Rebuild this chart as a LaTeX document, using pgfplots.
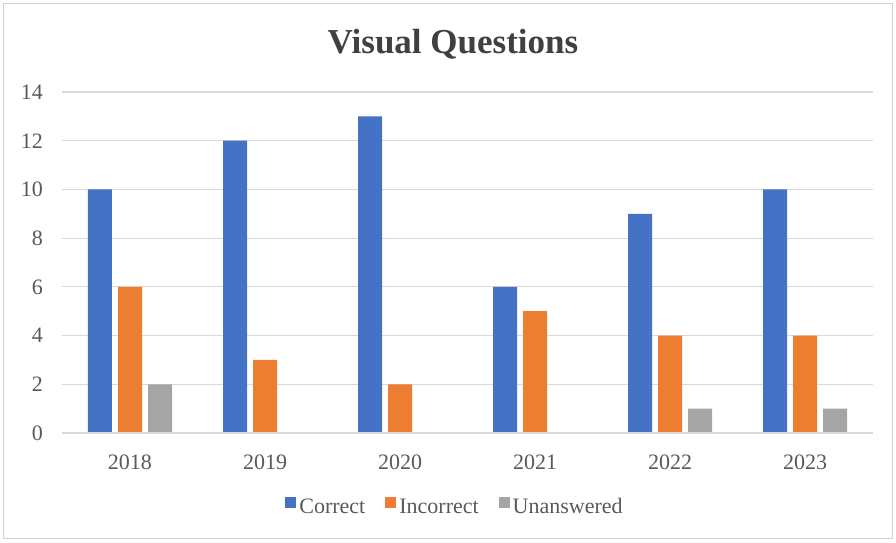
\documentclass[border=0pt]{standalone}
\usepackage{pgfplots}
\pgfplotsset{compat=1.18}
\usepackage{fontspec}
\setmainfont{Liberation Serif}
\definecolor{cblue}{HTML}{4472C4}
\definecolor{corange}{HTML}{ED7D31}
\definecolor{cgray}{HTML}{A5A5A5}
\definecolor{txt}{HTML}{595959}
\definecolor{ttl}{HTML}{404040}
\definecolor{gridc}{HTML}{D9D9D9}
\begin{document}
\begin{tikzpicture}
\begin{axis}[
  width=810pt, height=341pt, scale only axis,
  xmin=-0.5, xmax=5.5, ymin=0, ymax=14,
  ytick={0,2,...,14},
  xtick={0,1,2,3,4,5},
  xticklabels={2018,2019,2020,2021,2022,2023},
  ybar=6pt, bar width=24pt,
  axis line style={draw=none},
  major tick length=0pt,
  xmajorgrids=false, ymajorgrids=true,
  grid style={draw=gridc, line width=1.2pt},
  tick label style={font=\fontsize{22}{26}\selectfont, text=txt},
  /pgf/number format/assume math mode=true,
  yticklabel style={xshift=-16pt},
  xticklabel style={yshift=-18pt},
  legend columns=3,
  legend style={draw=none, fill=none, at={(0.4846,-0.217)}, anchor=center,
    font=\fontsize{22}{26}\selectfont, text=txt,
    /tikz/every odd column/.append style={column sep=1pt},
    /tikz/every even column/.append style={column sep=18pt}},
  legend image code/.code={\fill[#1] (0pt,-1pt) rectangle (11pt,10pt);},
  clip=false,
  after end axis/.code={
    \draw[gridc, line width=1.5pt] (rel axis cs:0,0) -- (rel axis cs:1,0);
    \draw[gray!35, line width=1pt] ([xshift=-58.5pt,yshift=-105pt]rel axis cs:0,0) rectangle ([xshift=19.5pt,yshift=89pt]rel axis cs:1,1);
    \path ([xshift=-62.5pt,yshift=-109pt]rel axis cs:0,0) rectangle ([xshift=23.5pt,yshift=92pt]rel axis cs:1,1);
    \node[text=ttl, font=\fontsize{35}{40}\selectfont\bfseries] at ([xshift=-14.5pt,yshift=48pt]rel axis cs:0.5,1) {Visual Questions};
  },
]
\addplot[fill=cblue, draw=none] coordinates {(0,10) (1,12) (2,13) (3,6) (4,9) (5,10)};
\addplot[fill=corange, draw=none] coordinates {(0,6) (1,3) (2,2) (3,5) (4,4) (5,4)};
\addplot[fill=cgray, draw=none] coordinates {(0,2) (1,0) (2,0) (3,0) (4,1) (5,1)};
\legend{Correct, Incorrect, Unanswered}
\end{axis}
\end{tikzpicture}
\end{document}
